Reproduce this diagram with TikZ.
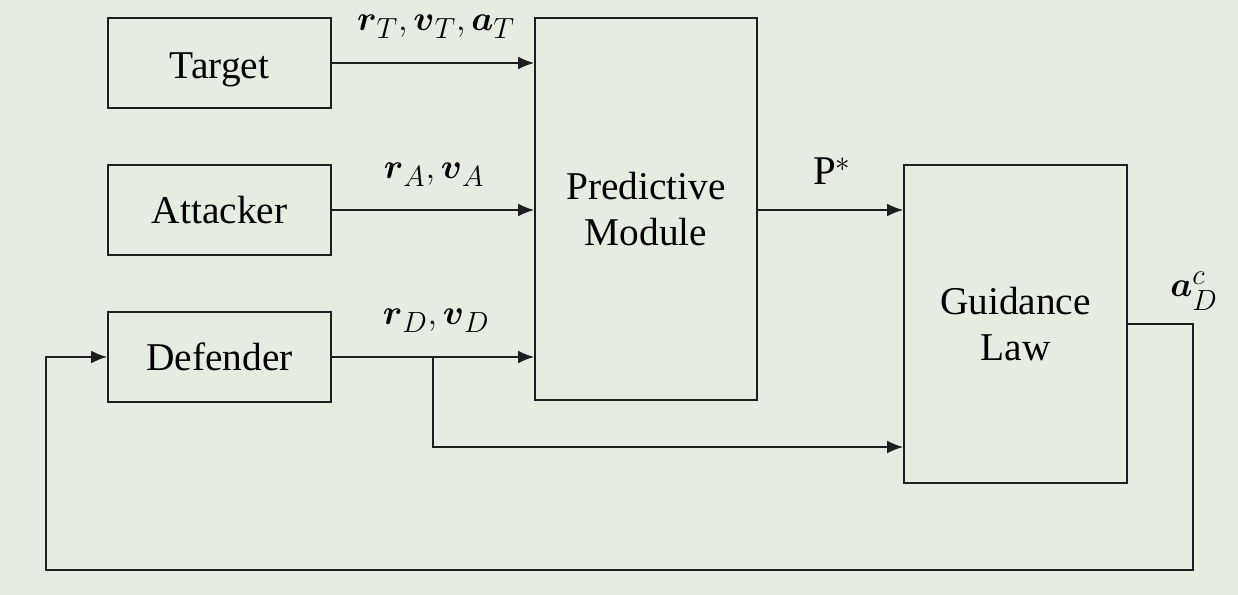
\documentclass[tikz,border=0pt]{standalone}
\usepackage{amsmath}
\usepackage{amssymb}
\usepackage{fontspec}
\setmainfont{Liberation Serif}
\usepackage{xcolor}
\usepackage{tikz}
\usetikzlibrary{arrows.meta}
\definecolor{bgcol}{HTML}{E7ECE3}
\definecolor{linecol}{HTML}{1E1E1E}

\begin{document}
\begin{tikzpicture}[block/.style={rectangle, draw=linecol, line width=1.2pt, font=\fontsize{28}{33}\selectfont, align=center}, link/.style={draw=linecol, line width=1.2pt, -{Latex[length=4mm,width=3.2mm]}}, lab/.style={font=\fontsize{29}{34}\selectfont}]
\fill[bgcol] (0,0) rectangle (30.95,14.875);
\useasboundingbox (0,0) rectangle (30.95,14.875);
\node[block, minimum width=5.575cm, minimum height=2.25cm] (target) at (5.4875,13.3) {\raisebox{-0.18cm}[\height][\depth]{Target}};
\node[block, minimum width=5.575cm, minimum height=2.25cm] (attacker) at (5.4875,9.625) {Attacker};
\node[block, minimum width=5.575cm, minimum height=2.25cm] (defender) at (5.4875,5.95) {Defender};
\node[block, minimum width=5.55cm, minimum height=9.55cm] (predict) at (16.15,9.65) {Predictive\\Module};
\node[block, minimum width=5.575cm, minimum height=7.95cm] (guidance) at (25.3875,6.775) {Guidance\\Law};
\coordinate (split) at (10.825,5.95);
\coordinate (split2) at (10.825,3.7);
\coordinate (fbright) at (29.825,0.625);
\coordinate (fbleft) at (1.15,0.625);
\draw[link] (target.east) -- (target.east -| predict.west);
\draw[link] (attacker.east) -- (attacker.east -| predict.west);
\draw[link] (defender.east) -- (defender.east -| predict.west);
\draw[link] (predict.east |- attacker.east) -- (guidance.west |- attacker.east);
\draw[link] (split) -- (split2) -- (split2 -| guidance.west);
\draw[link] (guidance.east) -| (fbright) -- (fbleft) |- (defender.west);
\node[lab] (labT) at (10.9,14.2) {$\boldsymbol{r}_{T},\boldsymbol{v}_{T},\boldsymbol{a}_{T}$};
\node[lab] (labA) at (10.85,10.5) {$\boldsymbol{r}_{A},\boldsymbol{v}_{A}$};
\node[lab] (labD) at (10.9,6.85) {$\boldsymbol{r}_{D},\boldsymbol{v}_{D}$};
\node[lab] (labP) at (20.8,10.6) {P$^*$};
\node[lab] (labC) at (29.85,7.6) {$\boldsymbol{a}_{D}^{c}$};
\end{tikzpicture}
\end{document}
